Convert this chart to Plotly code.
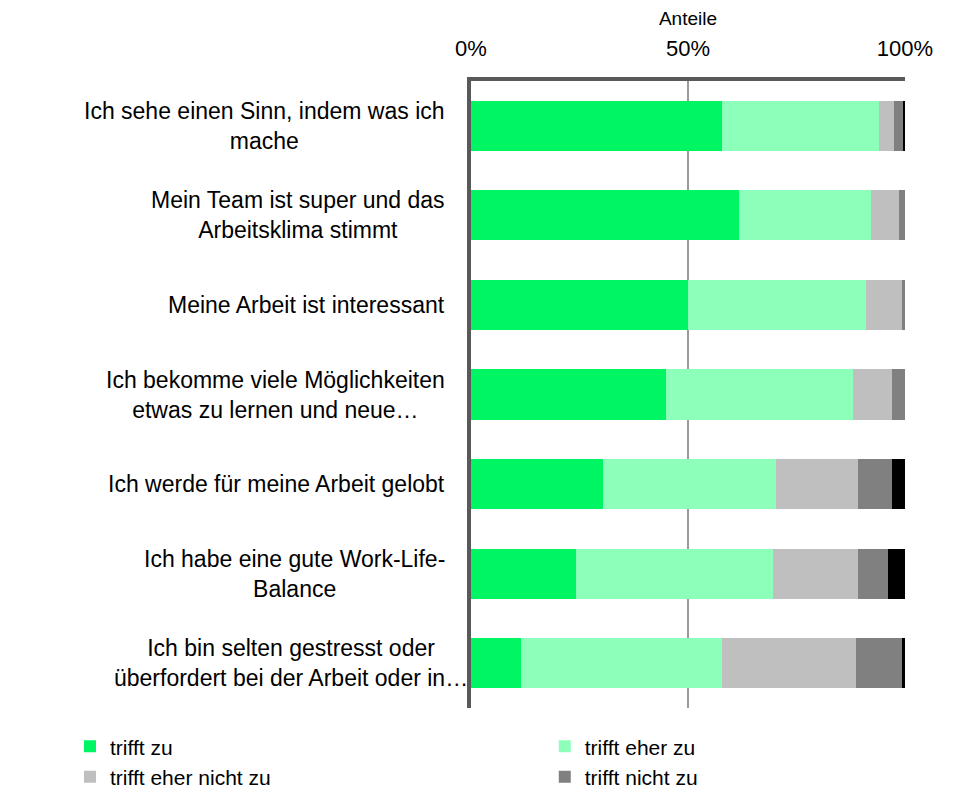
import plotly.graph_objects as go

categories = [
    "Ich sehe einen Sinn, indem was ich<br>mache",
    "Mein Team ist super und das<br>Arbeitsklima stimmt",
    "Meine Arbeit ist interessant",
    "Ich bekomme viele Möglichkeiten<br>etwas zu lernen und neue…",
    "Ich werde für meine Arbeit gelobt",
    "Ich habe eine gute Work-Life-<br>Balance",
    "Ich bin selten gestresst oder<br>überfordert bei der Arbeit oder in…",
]

series_names = ["trifft zu", "trifft eher zu", "trifft eher nicht zu", "trifft nicht zu", "keine Angabe"]

trifft_zu = [57.9, 61.8, 50.0, 45.0, 30.4, 24.2, 11.5]
trifft_eher_zu = [36.1, 30.4, 41.1, 43.0, 39.9, 45.4, 46.4]
trifft_eher_nicht_zu = [3.5, 6.5, 8.1, 9.1, 18.8, 19.6, 30.9]
trifft_nicht_zu = [2.1, 1.3, 0.8, 2.9, 8.0, 6.9, 10.7]
keine_angabe = [0.4, 0.0, 0.0, 0.0, 2.9, 3.9, 0.4]

tick_vals = [0, 50, 100]
tick_text = ["0%", "50%", "100%"]

colors = ["#00F563", "#8EFFBA", "#BFBFBF", "#808080", "#000000"]
values = [trifft_zu, trifft_eher_zu, trifft_eher_nicht_zu, trifft_nicht_zu, keine_angabe]
legend_ids = ["legend", "legend2", "legend", "legend2", "legend"]
show = [True, True, True, True, False]

FONT = "Liberation Sans, Arial, sans-serif"

fig = go.Figure()
for name, vals, col, lg, sh in zip(series_names, values, colors, legend_ids, show):
    fig.add_trace(go.Bar(
        y=categories, x=vals, name=name, orientation="h",
        marker=dict(color=col, line=dict(width=0)),
        showlegend=sh, legend=lg,
    ))

label_shift = [-24, -24, -24, -24, -24, -24, -1]
for cat, sh in zip(categories, label_shift):
    fig.add_annotation(
        x=0, y=cat, xref="x", yref="y", text=cat, showarrow=False,
        xanchor="right", yanchor="middle", align="center", xshift=sh,
        font=dict(family=FONT, size=23, color="#000000"),
    )

legend_common = dict(
    orientation="v", xanchor="left", y=-0.029, yanchor="top",
    itemwidth=30, traceorder="normal",
    font=dict(family=FONT, size=21, color="#000000"),
    bgcolor="rgba(0,0,0,0)", borderwidth=0,
)

fig.update_layout(
    width=956, height=787,
    margin=dict(l=463, r=59, t=73, b=87, autoexpand=False),
    barmode="stack", bargap=0.44,
    plot_bgcolor="white", paper_bgcolor="white",
    font=dict(family=FONT, color="#000000"),
    showlegend=True,
    legend=dict(x=-0.924, **legend_common),
    legend2=dict(x=0.170, **legend_common),
    xaxis=dict(
        side="top", range=[0, 100], tickvals=tick_vals, ticktext=tick_text,
        tickfont=dict(size=22, color="#000000"),
        ticks="outside", ticklen=12, tickcolor="rgba(0,0,0,0)",
        showgrid=True, gridcolor="#9A9A9A", gridwidth=1.5,
        showline=True, linecolor="#595959", linewidth=4,
        zeroline=False, automargin=False,
        title=dict(text="Anteile", font=dict(size=19, color="#000000"), standoff=8),
        fixedrange=True,
    ),
    yaxis=dict(
        autorange="reversed", showticklabels=False, ticks="",
        showline=True, linecolor="#595959", linewidth=4,
        showgrid=False, zeroline=False, automargin=False,
    ),
)

fig.write_html("out.html")
